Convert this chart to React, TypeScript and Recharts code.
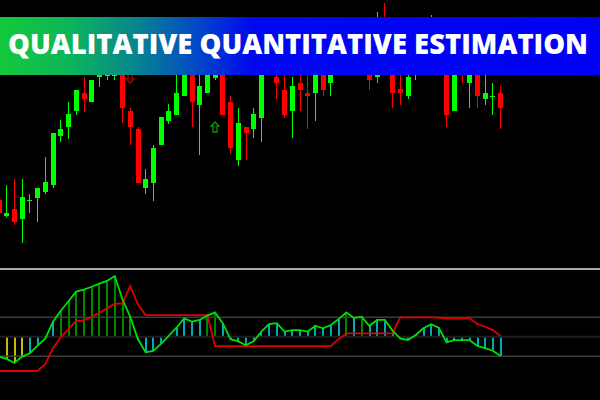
import React from 'react';
import { ComposedChart, Bar, Line, XAxis, YAxis, ReferenceLine, Scatter } from 'recharts';

// bar index -1 is the partly cut candle at the left edge
const barIndex = [
  -1, 0, 1, 2, 3, 4, 5, 6, 7, 8, 9, 10, 11, 12, 13, 14, 15, 16, 17, 18, 19, 20, 21,
  22, 23, 24, 25, 26, 27, 28, 29, 30, 31, 32, 33, 34, 35, 36, 37, 38, 39, 40, 41, 42,
  43, 44, 45, 46, 47, 48, 49, 50, 51, 52, 53, 54, 55, 56, 57, 58, 59, 60, 61, 62, 63, 64,
];

const openPrices = [
  100, 84, 91, 81, 100, 102, 108, 115, 164, 173, 189, 207, 198, 223, 224, 224, 235, 189, 171, 112, 117, 155, 179,
  185, 204, 228, 195, 207, 222, 234, 198, 140, 173, 171, 182, 234, 223, 210, 189, 217, 207, 207, 234, 217,
  240, 255, 242, 250, 240, 223, 270, 240, 211, 204, 230, 250, 238, 260, 245, 189, 245, 217, 235, 201, 204, 207,
];
const highPrices = [
  103, 115, 121, 121, 106, 112, 143, 167, 180, 198, 210, 223, 220, 232, 235, 238, 240, 192, 173, 131, 155, 183, 196,
  228, 238, 234, 230, 240, 234, 240, 204, 192, 173, 192, 245, 255, 238, 228, 223, 230, 232, 240, 240, 238,
  262, 260, 265, 272, 250, 288, 297, 245, 230, 228, 255, 260, 285, 270, 252, 245, 255, 242, 240, 225, 217, 214,
];
const lowPrices = [
  84, 83, 75, 57, 87, 78, 106, 112, 158, 161, 185, 188, 198, 213, 220, 220, 177, 155, 117, 106, 99, 155, 176,
  185, 204, 173, 145, 207, 220, 185, 146, 134, 140, 162, 158, 230, 201, 182, 162, 189, 171, 179, 204, 204,
  232, 238, 235, 242, 210, 217, 230, 192, 195, 201, 220, 230, 232, 234, 173, 189, 217, 192, 192, 195, 185, 171,
];
const closePrices = [
  87, 87, 78, 103, 100, 112, 118, 167, 171, 186, 210, 201, 220, 230, 228, 230, 192, 173, 117, 121, 152, 183, 189,
  207, 232, 198, 214, 232, 226, 185, 152, 177, 167, 186, 232, 245, 217, 185, 214, 210, 204, 232, 210, 230,
  255, 245, 260, 265, 220, 250, 240, 207, 207, 223, 245, 238, 265, 245, 185, 240, 232, 235, 204, 207, 204, 192,
];

// QQE smoothed RSI and its trailing level
const rsiValues = [
  39.7, 38.6, 36.5, 39.8, 41.5, 45.4, 49.0, 57.7, 63.3, 68.2, 73.1, 74.1, 75.6, 77.2, 78.6, 81.1, 69.2, 60.3, 48.8, 42.0, 42.7, 46.3, 50.4,
  54.6, 59.4, 57.7, 58.6, 60.8, 62.5, 56.9, 48.7, 47.6, 45.6, 47.6, 52.6, 56.4, 56.9, 52.6, 53.4, 53.4, 52.6, 55.6, 54.3, 56.0,
  58.9, 62.5, 59.6, 60.3, 55.5, 58.6, 58.6, 53.1, 49.1, 48.3, 50.9, 54.3, 56.4, 54.6, 47.1, 48.2, 48.2, 48.2, 45.2, 44.1, 42.8, 40.1,
];
const trailValues = [
  32.4, 32.4, 32.4, 32.4, 32.4, 32.4, 36.0, 44.1, 49.7, 53.9, 58.1, 58.4, 60.3, 62.3, 64.6, 66.9, 67.1, 76.0, 66.6, 61.1, 61.1, 61.1, 61.1,
  61.1, 61.1, 61.1, 61.1, 61.1, 45.2, 45.2, 45.2, 45.2, 45.2, 45.2, 45.2, 45.2, 45.2, 45.2, 45.2, 45.2, 45.2, 45.2, 45.2, 45.2,
  48.6, 51.7, 51.7, 51.7, 51.7, 51.7, 51.7, 51.7, 59.9, 59.9, 59.9, 59.9, 59.9, 59.7, 59.4, 59.4, 59.4, 59.4, 56.5, 55.1, 53.4, 50.4,
];

const levels = [40, 50, 60];

// signal arrows: [bar index, price]
const upArrows = [[27, 173]];
const downArrows = [[16, 222]];

const TITLE = 'QUALITATIVE QUANTITATIVE ESTIMATION';

const candleData = barIndex.map((i, k) => ({
  i,
  open: openPrices[k],
  high: highPrices[k],
  low: lowPrices[k],
  close: closePrices[k],
}));

const qqeData = barIndex.map((i, k) => ({ i, rsi: rsiValues[k], trail: trailValues[k] }));

const upArrowData = upArrows.map(([i, p]) => ({ i, p }));
const downArrowData = downArrows.map(([i, p]) => ({ i, p }));

const X_DOMAIN: [number, number] = [-0.868, 76.89];

const Candle = (props: any) => {
  const { x, y, width, height, payload } = props;
  if (x == null || y == null) return null;
  const { open, close, high, low } = payload;
  const color = close >= open ? '#00ff00' : '#ff0000';
  const top = Math.min(y, y + height);
  const h = Math.abs(height);
  const k = h / (high - low);
  const yO = top + (high - open) * k;
  const yC = top + (high - close) * k;
  const cx = Math.round(x + width / 2) + 0.5;
  const bodyTop = Math.min(yO, yC);
  const bodyH = Math.max(Math.abs(yO - yC), 1);
  return (
    <g>
      <line x1={cx} x2={cx} y1={top} y2={top + h} stroke={color} strokeWidth={1} />
      <rect x={cx - 2.5} y={bodyTop} width={5} height={bodyH} fill={color} />
    </g>
  );
};

const histColor = (v: number) => (v > 60 ? '#00b400' : v < 40 ? '#ffff00' : '#00e5ee');

const HistBar = (props: any) => {
  const { x, y, width, height, payload } = props;
  if (x == null || y == null) return null;
  const top = Math.min(y, y + height);
  const h = Math.abs(height);
  const cx = Math.round(x + width / 2);
  return <rect x={cx - 0.75} y={top} width={1.5} height={h} fill={histColor(payload.rsi)} />;
};

const UpArrow = (props: any) => {
  const { cx, cy } = props;
  if (cx == null) return null;
  return (
    <path
      d={`M${cx},${cy - 5} L${cx + 4},${cy - 1} L${cx + 2},${cy - 1} L${cx + 2},${cy + 5} L${cx - 2},${cy + 5} L${cx - 2},${cy - 1} L${cx - 4},${cy - 1} Z`}
      fill="none"
      stroke="#00a000"
      strokeWidth={1.3}
    />
  );
};

const DownArrow = (props: any) => {
  const { cx, cy } = props;
  if (cx == null) return null;
  return (
    <path
      d={`M${cx},${cy + 5} L${cx + 4},${cy + 1} L${cx + 2},${cy + 1} L${cx + 2},${cy - 5} L${cx - 2},${cy - 5} L${cx - 2},${cy + 1} L${cx - 4},${cy + 1} Z`}
      fill="none"
      stroke="#b00000"
      strokeWidth={1.3}
    />
  );
};

export default function App() {
  return (
    <div style={{ position: 'absolute', left: 0, top: 0, width: 600, height: 400, background: '#000', overflow: 'hidden' }}>
      <div style={{ position: 'absolute', left: 0, top: 0 }}>
        <ComposedChart width={600} height={265} data={candleData} margin={{ top: 0, right: 0, bottom: 0, left: 0 }}>
          <XAxis dataKey="i" type="number" domain={X_DOMAIN} allowDataOverflow hide />
          <YAxis type="number" domain={[35, 300]} allowDataOverflow hide />
          <Bar dataKey={(d: any) => [d.low, d.high]} barSize={5} shape={<Candle />} isAnimationActive={false} />
          <Scatter data={upArrowData} dataKey="p" shape={<UpArrow />} isAnimationActive={false} />
          <Scatter data={downArrowData} dataKey="p" shape={<DownArrow />} isAnimationActive={false} />
        </ComposedChart>
      </div>

      <div style={{ position: 'absolute', left: 0, top: 268, width: 600, height: 2, background: '#a8a8a8' }} />

      <div style={{ position: 'absolute', left: 0, top: 270 }}>
        <ComposedChart width={600} height={130} data={qqeData} margin={{ top: 0, right: 0, bottom: 0, left: 0 }}>
          <XAxis dataKey="i" type="number" domain={X_DOMAIN} allowDataOverflow hide />
          <YAxis type="number" domain={[17.53, 84.2]} allowDataOverflow hide />
          {levels.map((lv) => (
            <ReferenceLine
              key={lv}
              y={lv}
              stroke={lv === 50 ? '#1e1e1e' : '#3c3c3c'}
              strokeWidth={lv === 50 ? 2 : 1.5}
            />
          ))}
          <Bar
            dataKey={(d: any) => (d.rsi >= 50 ? [50, d.rsi] : [d.rsi, 50])}
            barSize={2}
            shape={<HistBar />}
            isAnimationActive={false}
          />
          <Line type="linear" dataKey="trail" stroke="#e00000" strokeWidth={1.8} dot={false} isAnimationActive={false} />
          <Line type="linear" dataKey="rsi" stroke="#00e000" strokeWidth={1.8} dot={false} isAnimationActive={false} />
        </ComposedChart>
      </div>

      <svg width={600} height={60} style={{ position: 'absolute', left: 0, top: 17 }}>
        <defs>
          <linearGradient id="bannerFill" x1="0" y1="0" x2="1" y2="0">
            <stop offset="0%" stopColor="#13c93a" />
            <stop offset="12%" stopColor="#0cb45a" />
            <stop offset="24%" stopColor="#067e96" />
            <stop offset="34%" stopColor="#0240cc" />
            <stop offset="42%" stopColor="#0008f0" />
            <stop offset="100%" stopColor="#0000f6" />
          </linearGradient>
        </defs>
        <rect x={0} y={0} width={600} height={58} fill="url(#bannerFill)" />
        <text
          x={8}
          y={37}
          textLength={580}
          lengthAdjust="spacingAndGlyphs"
          fill="#ffffff"
          fontFamily="'Open Sans', sans-serif"
          fontWeight={800}
          fontSize={28}
        >
          {TITLE}
        </text>
      </svg>
    </div>
  );
}
